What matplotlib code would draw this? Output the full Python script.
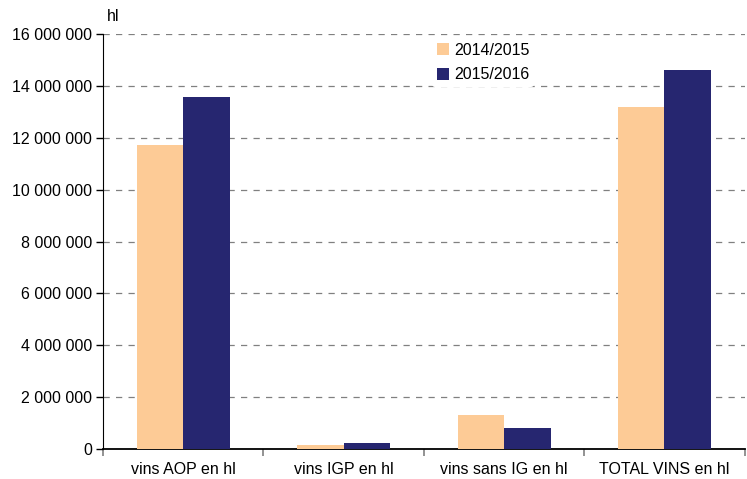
import matplotlib
matplotlib.use("Agg")
import matplotlib.pyplot as plt
import numpy as np
from matplotlib.ticker import FuncFormatter, FixedLocator

plt.rcParams['font.family'] = ['Liberation Sans', 'DejaVu Sans']

categories = ["vins AOP en hl", "vins IGP en hl", "vins sans IG en hl", "TOTAL VINS en hl"]
series_names = ["2014/2015", "2015/2016"]
values_2014 = [11720000, 150000, 1320000, 13190000]
values_2015 = [13570000, 230000, 810000, 14610000]
yticks = [0, 2000000, 4000000, 6000000, 8000000, 10000000, 12000000, 14000000, 16000000]

c1 = "#FDCB96"
c2 = "#262670"

fig = plt.figure(figsize=(7.47, 4.79), dpi=100)
ax = fig.add_axes([0.1379, 0.0626, 0.859, 0.8664])

x = np.arange(len(categories))
w = 0.29
ax.bar(x - w/2, values_2014, width=w, color=c1, label=series_names[0], zorder=3)
ax.bar(x + w/2, values_2015, width=w, color=c2, label=series_names[1], zorder=3)

ax.set_xlim(-0.5, len(categories) - 0.5)
ax.set_ylim(0, 16000000)
ax.set_yticks(yticks)
ax.yaxis.set_major_formatter(FuncFormatter(lambda v, p: f"{int(v):,}".replace(",", " ")))
ax.yaxis.grid(True, linestyle=(0, (5, 5)), color="#808080", linewidth=0.9, zorder=0)
ax.set_axisbelow(True)

ax.set_xticks(x)
ax.set_xticklabels(categories)
ax.tick_params(axis='x', which='major', length=0, pad=9, labelsize=11.5)
ax.xaxis.set_minor_locator(FixedLocator(np.arange(-0.5, len(categories), 1.0)))
ax.tick_params(axis='x', which='minor', length=5, width=1.2, color="#808080", direction='out')
ax.tick_params(axis='y', length=5, width=1, direction='out', labelsize=11.5, pad=3)

for s in ["top", "right"]:
    ax.spines[s].set_visible(False)
ax.spines["left"].set_color("black")
ax.spines["bottom"].set_color("black")
ax.spines["bottom"].set_linewidth(1.3)

ax.text(0.006, 1.025, "hl", transform=ax.transAxes, fontsize=11.5, ha="left", va="bottom")

leg = ax.legend(loc="upper left", bbox_to_anchor=(0.5, 1.01), frameon=True, fontsize=11.5,
                handlelength=0.8, handleheight=0.8, handletextpad=0.3, labelspacing=0.6,
                borderpad=0.3)
leg.get_frame().set_edgecolor("none")
leg.get_frame().set_facecolor("white")
leg.get_frame().set_alpha(1)

fig.savefig("out.png", dpi=100)
